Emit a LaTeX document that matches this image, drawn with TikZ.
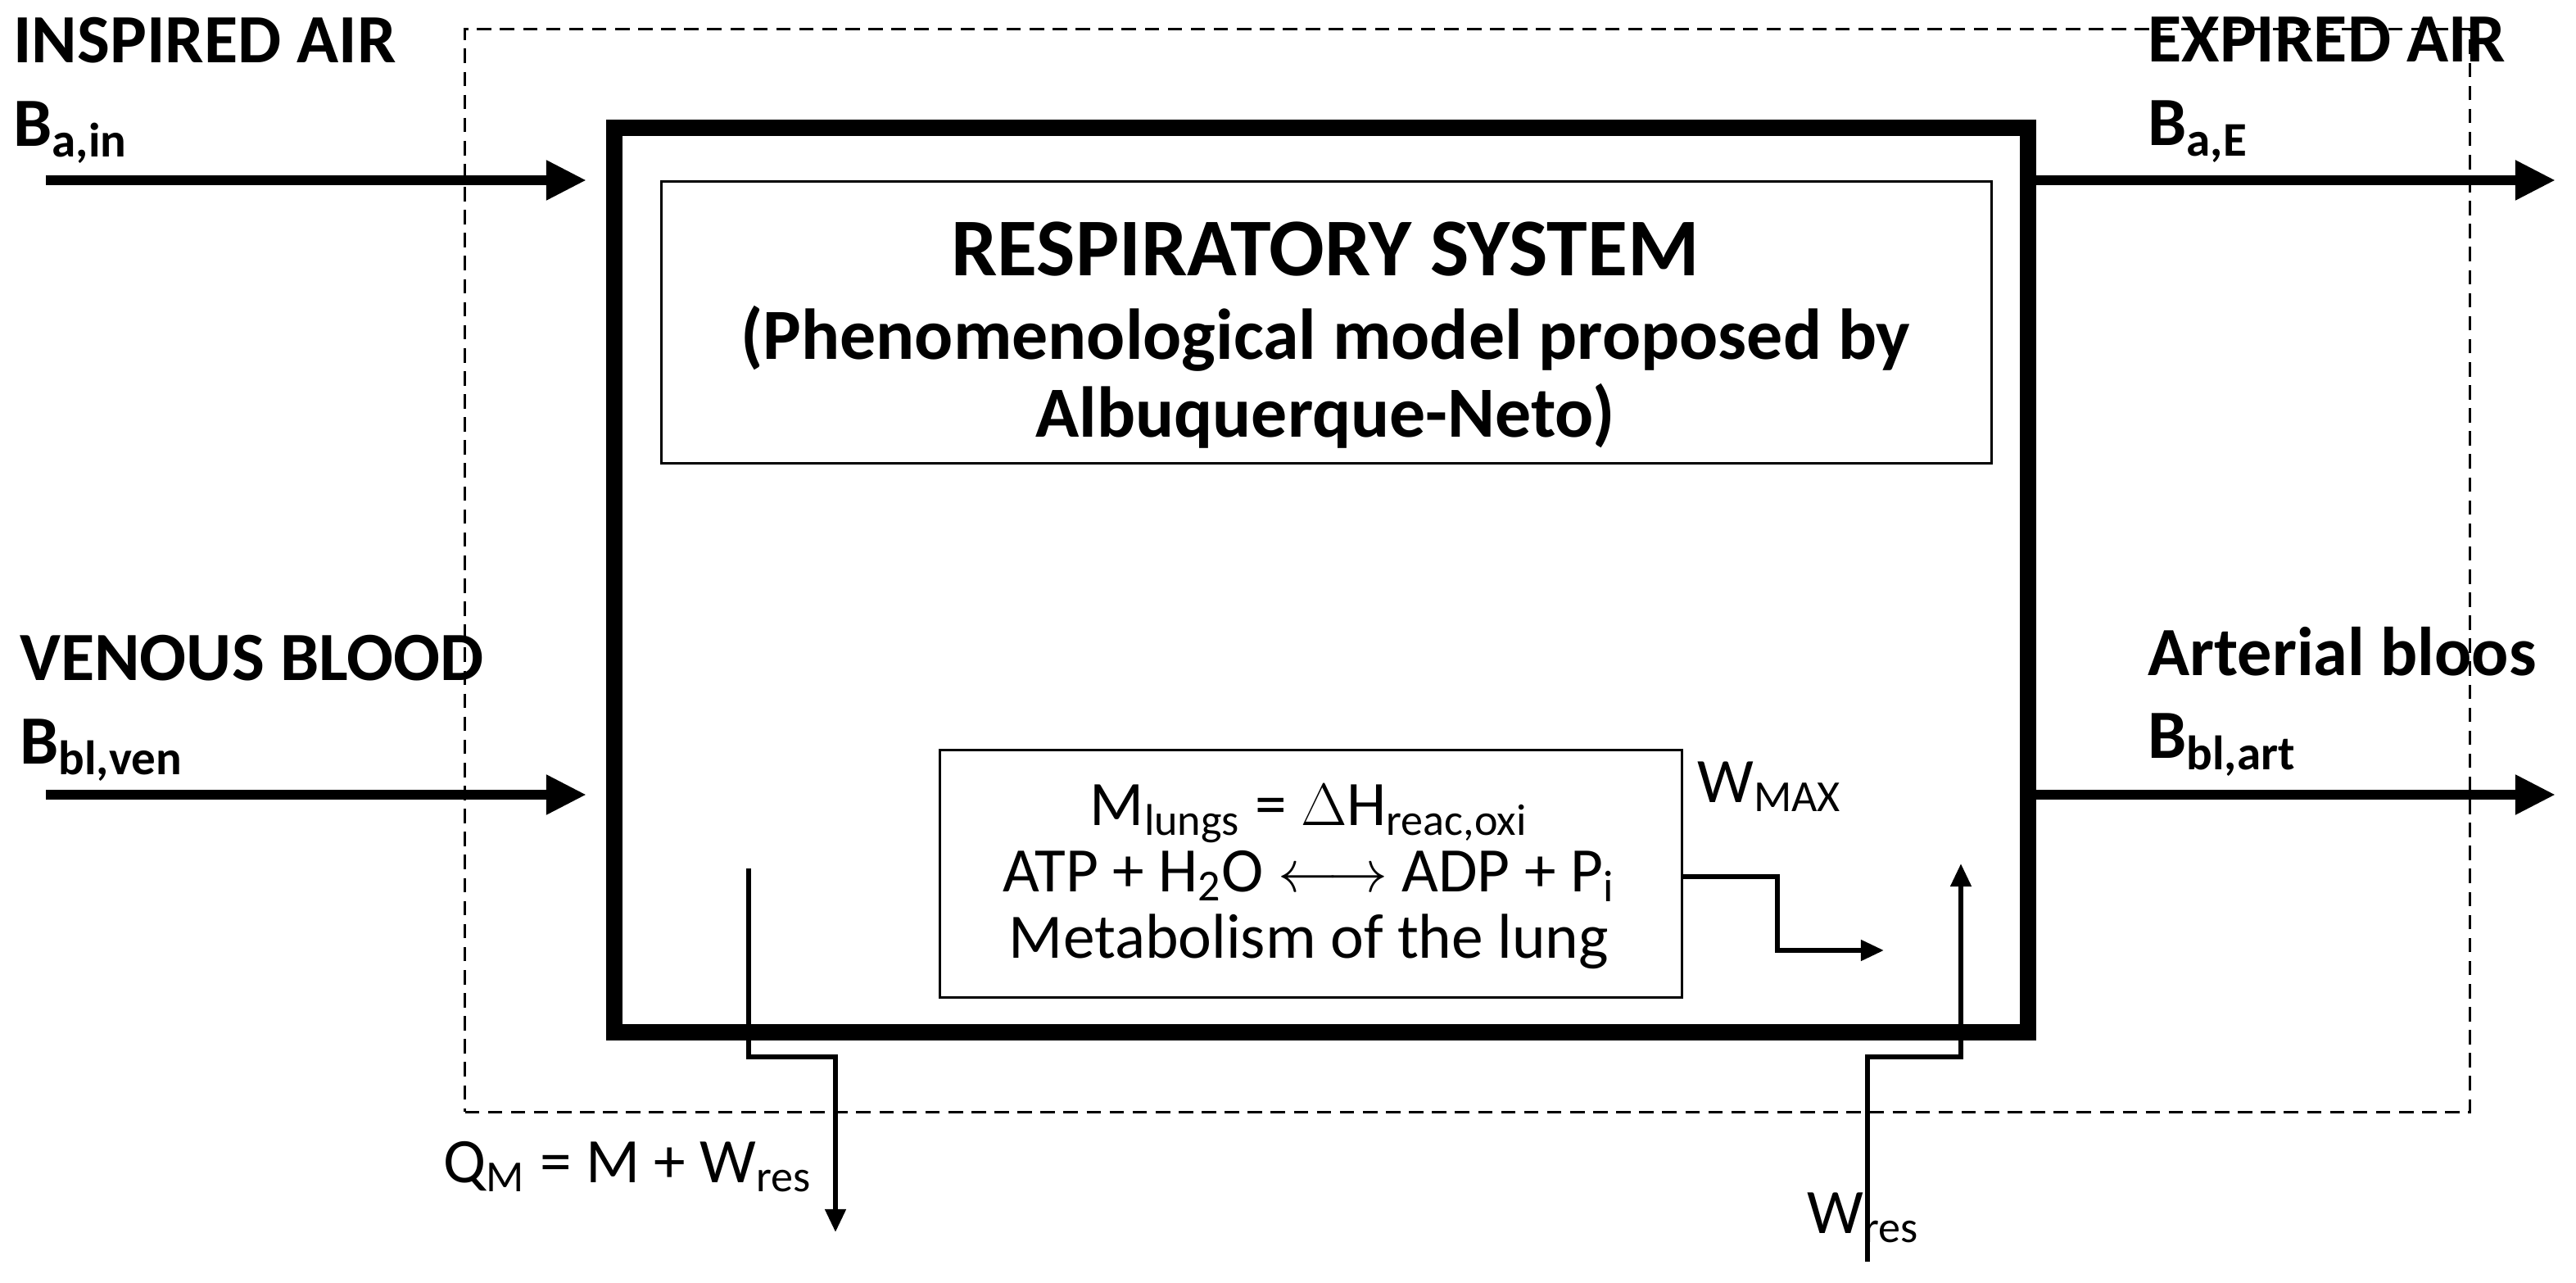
\documentclass[tikz,border=0pt]{standalone}
\usepackage{fontspec}
\setmainfont{Carlito}
\usetikzlibrary{arrows.meta}
\begin{document}
\begin{tikzpicture}[x=0.02cm,y=-0.02cm,
 big/.style={line width=3.6pt,-{Triangle[length=14pt,width=13pt]}},
 thin/.style={line width=1.7pt,-{Triangle[length=8pt,width=7pt]}},
 lab/.style={font=\fontsize{24}{29}\selectfont\bfseries,anchor=west,align=left},
 txt/.style={font=\fontsize{22}{23}\selectfont}]
\useasboundingbox (0,0) rectangle (1572.5,783);
\node[draw,dashed,line width=0.9pt,dash pattern=on 5pt off 3pt,minimum width=24.48cm,minimum height=13.22cm,anchor=north west] (dash) at (283,17) {};
\node[draw,line width=5.7pt,minimum width=17.26cm,minimum height=11.04cm,anchor=north west] (sys) at (370,73) {};
\node[draw,line width=0.9pt,minimum width=16.24cm,minimum height=3.44cm,anchor=north west] (title) at (403,110) {};
\node[font=\fontsize{28.5}{30}\selectfont\bfseries] (t1) at (809,152) {RESPIRATORY SYSTEM};
\node[font=\fontsize{25}{27}\selectfont\bfseries,align=center] (t2) at (809,230) {(Phenomenological model proposed by\\Albuquerque-Neto)};
\node[draw,line width=0.9pt,minimum width=9.06cm,minimum height=3.02cm,anchor=north west] (form) at (573,457) {};
\node[txt,align=center] (ft) at (799,535) {M\textsubscript{lungs} = $\Delta$H\textsubscript{reac,oxi}\\ATP + H\textsubscript{2}O $\longleftrightarrow$ ADP + P\textsubscript{i}\\Metabolism of the lung};
\node[lab] (ia) at (2,55) {INSPIRED AIR\\B\textsubscript{a,in}};
\node[lab] (vb) at (6,432) {VENOUS BLOOD\\B\textsubscript{bl,ven}};
\node[lab] (ea) at (1305,55) {EXPIRED AIR\\B\textsubscript{a,E}};
\node[lab] (ab) at (1305,428) {Arterial bloos\\B\textsubscript{bl,art}};
\coordinate (ia0) at (28,110); \coordinate (ia1) at (358,110);
\coordinate (vb0) at (28,485); \coordinate (vb1) at (358,485);
\coordinate (ea0) at (1236,110); \coordinate (ea1) at (1560,110);
\coordinate (ab0) at (1236,485); \coordinate (ab1) at (1560,485);
\draw[big] (ia0) -- (ia1);
\draw[big] (vb0) -- (vb1);
\draw[big] (ea0) -- (ea1);
\draw[big] (ab0) -- (ab1);
\coordinate (q0) at (457,530); \coordinate (q1) at (510,752);
\draw[thin] (q0) |- (510,645) -- (q1);
\node[txt,anchor=east] (qm) at (502,712) {Q\textsubscript{M} = M + W\textsubscript{res}};
\coordinate (w0) at (1140,770); \coordinate (w1) at (1197,527);
\draw[thin] (w0) |- (1197,645) -- (w1);
\node[txt,anchor=west] (wr) at (1097,743) {W\textsubscript{res}};
\coordinate (m0) at (1026,535); \coordinate (m1) at (1150,580);
\draw[thin] (m0) -| (1085,580) -- (m1);
\node[txt,anchor=west] (wm) at (1030,480) {W\textsubscript{MAX}};
\end{tikzpicture}
\end{document}
